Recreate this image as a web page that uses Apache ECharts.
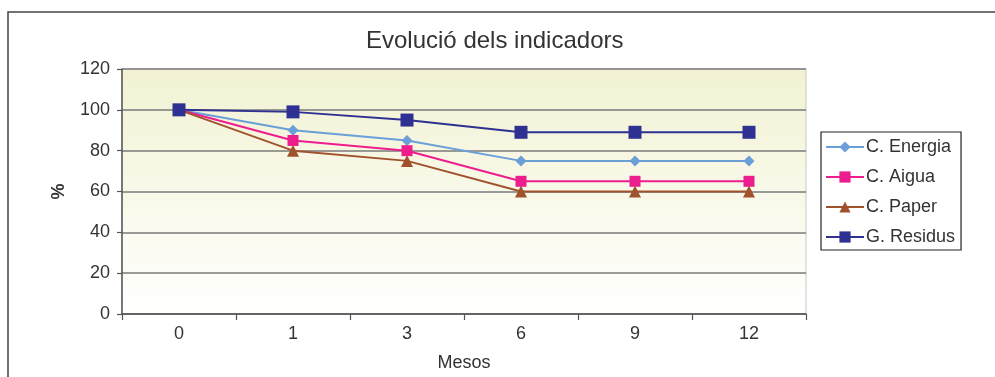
<!DOCTYPE html>
<html><head><meta charset="utf-8">
<script src="https://cdn.jsdelivr.net/npm/echarts@6/dist/echarts.min.js"></script>
<style>html,body{margin:0;padding:0;background:#fff;overflow:hidden}#c{width:995px;height:377px}</style>
</head><body><div id="c"></div>
<script>
const months = ['0','1','3','6','9','12'];
const energia = [100, 90, 85, 75, 75, 75];
const aigua = [100, 85, 80, 65, 65, 65];
const paper = [100, 80, 75, 60, 60, 60];
const residus = [100, 99, 95, 89, 89, 89];
const seriesNames = ['C. Energia','C. Aigua','C. Paper','G. Residus'];
const yTicks = {min:0, max:120, interval:20};

const chart = echarts.init(document.getElementById('c'), null, {renderer:'canvas'});
const font = "'Liberation Sans', Arial, sans-serif";
function mk(name, data, color, symbol, size){
  return {name, type:'line', data, symbol, symbolSize:size, showSymbol:true,
    lineStyle:{color, width:2}, itemStyle:{color, borderColor:color, borderWidth:0},
    emphasis:{disabled:true}, animation:false};
}
chart.setOption({
  animation:false,
  graphic:[{type:'rect', shape:{x:8, y:12, width:1000, height:400},
    style:{fill:'none', stroke:'#444', lineWidth:1.5}, silent:true, z:-10}],
  title:{text:'Evolució dels indicadors', left:361, top:24,
    textStyle:{fontFamily:font, fontSize:24, fontWeight:'normal', color:'#333'}},
  legend:{orient:'vertical', left:821, top:132,
    data:seriesNames, itemWidth:38, itemHeight:14, itemGap:12,
    padding:[6,6,4,4], borderColor:'#222', borderWidth:1.2, backgroundColor:'#fff',
    textStyle:{fontFamily:font, fontSize:18, color:'#333', padding:[0,0,0,-3]}},
  grid:{left:122, right:189, top:69, bottom:63, outerBoundsMode:'none', containLabel:false,
    show:true, borderWidth:1, borderColor:'#c8c8c8',
    backgroundColor:{type:'linear', x:0, y:0, x2:0, y2:1,
      colorStops:[{offset:0, color:'#f2f2d3'},{offset:1, color:'#ffffff'}]}},
  xAxis:{type:'category', data:months, boundaryGap:true,
    name:'Mesos', nameLocation:'middle', nameGap:40,
    nameTextStyle:{fontFamily:font, fontSize:18, color:'#333'},
    axisLine:{lineStyle:{color:'#555', width:1.5}},
    axisTick:{show:true, length:6, lineStyle:{color:'#555', width:1.2}},
    axisLabel:{fontFamily:font, fontSize:18, color:'#333', margin:11},
    splitLine:{show:false}},
  yAxis:{type:'value', min:yTicks.min, max:yTicks.max, interval:yTicks.interval,
    name:'%', nameLocation:'middle', nameGap:54, nameRotate:90,
    nameTextStyle:{fontFamily:font, fontSize:18, fontWeight:'bold', color:'#333'},
    axisLine:{show:true, lineStyle:{color:'#555', width:1.5}},
    axisTick:{show:true, length:5, lineStyle:{color:'#555', width:1.2}},
    axisLabel:{fontFamily:font, fontSize:18, color:'#333', margin:12},
    splitLine:{lineStyle:{color:'#7a7a7a', width:1.5}}},
  series:[
    mk(seriesNames[0], energia, '#6a9fd8', 'diamond', 11),
    mk(seriesNames[1], aigua, '#ee1d8e', 'rect', 11),
    mk(seriesNames[2], paper, '#a0522d', 'triangle', 12),
    mk(seriesNames[3], residus, '#2e3192', 'rect', 13)
  ]
});
</script></body></html>
